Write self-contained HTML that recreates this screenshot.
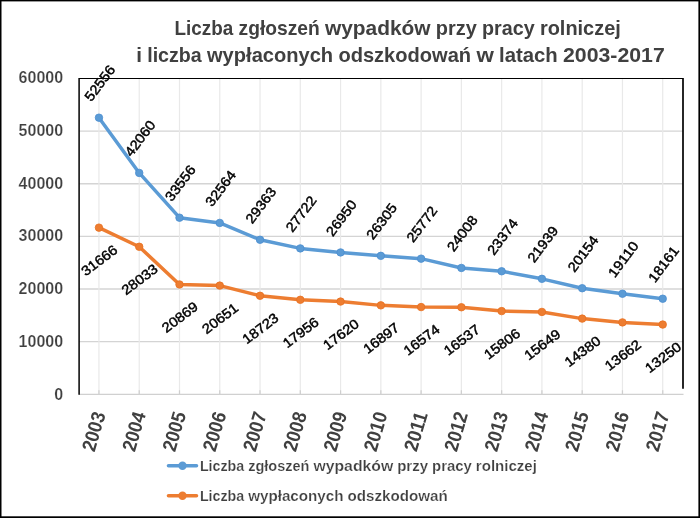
<!DOCTYPE html>
<html lang="pl"><head><meta charset="utf-8"><title>Liczba zgłoszeń wypadków przy pracy rolniczej</title>
<style>
html,body{margin:0;padding:0;background:#fff;}
body{width:700px;height:518px;overflow:hidden;}
svg{display:block;}
text{font-family:'Liberation Sans', Arial, sans-serif;}
.t{font-weight:700;fill:#404040;}
.u{stroke:#fff;stroke-width:0.2px;paint-order:fill stroke;}
.d{font-weight:400;fill:#000;font-size:13.7px;stroke:#000;stroke-width:0.45px;}
</style></head><body>
<svg width="700" height="518" viewBox="0 0 700 518">
<rect x="0" y="0" width="700" height="518" fill="#fff"/>
<line x1="79.1" x2="683.0" y1="341.67" y2="341.67" stroke="#d4d4d4" stroke-width="1.4"/>
<line x1="79.1" x2="683.0" y1="289.03" y2="289.03" stroke="#d4d4d4" stroke-width="1.4"/>
<line x1="79.1" x2="683.0" y1="236.40" y2="236.40" stroke="#d4d4d4" stroke-width="1.4"/>
<line x1="79.1" x2="683.0" y1="183.77" y2="183.77" stroke="#d4d4d4" stroke-width="1.4"/>
<line x1="79.1" x2="683.0" y1="131.13" y2="131.13" stroke="#d4d4d4" stroke-width="1.4"/>
<line x1="98.95" x2="98.95" y1="78.5" y2="394.3" stroke="#e9e9e9" stroke-width="1.2"/>
<line x1="98.95" x2="98.95" y1="390.3" y2="394.7" stroke="#cfcfcf" stroke-width="1.2"/>
<line x1="139.22" x2="139.22" y1="78.5" y2="394.3" stroke="#e9e9e9" stroke-width="1.2"/>
<line x1="139.22" x2="139.22" y1="390.3" y2="394.7" stroke="#cfcfcf" stroke-width="1.2"/>
<line x1="179.49" x2="179.49" y1="78.5" y2="394.3" stroke="#e9e9e9" stroke-width="1.2"/>
<line x1="179.49" x2="179.49" y1="390.3" y2="394.7" stroke="#cfcfcf" stroke-width="1.2"/>
<line x1="219.76" x2="219.76" y1="78.5" y2="394.3" stroke="#e9e9e9" stroke-width="1.2"/>
<line x1="219.76" x2="219.76" y1="390.3" y2="394.7" stroke="#cfcfcf" stroke-width="1.2"/>
<line x1="260.03" x2="260.03" y1="78.5" y2="394.3" stroke="#e9e9e9" stroke-width="1.2"/>
<line x1="260.03" x2="260.03" y1="390.3" y2="394.7" stroke="#cfcfcf" stroke-width="1.2"/>
<line x1="300.30" x2="300.30" y1="78.5" y2="394.3" stroke="#e9e9e9" stroke-width="1.2"/>
<line x1="300.30" x2="300.30" y1="390.3" y2="394.7" stroke="#cfcfcf" stroke-width="1.2"/>
<line x1="340.57" x2="340.57" y1="78.5" y2="394.3" stroke="#e9e9e9" stroke-width="1.2"/>
<line x1="340.57" x2="340.57" y1="390.3" y2="394.7" stroke="#cfcfcf" stroke-width="1.2"/>
<line x1="380.84" x2="380.84" y1="78.5" y2="394.3" stroke="#e9e9e9" stroke-width="1.2"/>
<line x1="380.84" x2="380.84" y1="390.3" y2="394.7" stroke="#cfcfcf" stroke-width="1.2"/>
<line x1="421.11" x2="421.11" y1="78.5" y2="394.3" stroke="#e9e9e9" stroke-width="1.2"/>
<line x1="421.11" x2="421.11" y1="390.3" y2="394.7" stroke="#cfcfcf" stroke-width="1.2"/>
<line x1="461.38" x2="461.38" y1="78.5" y2="394.3" stroke="#e9e9e9" stroke-width="1.2"/>
<line x1="461.38" x2="461.38" y1="390.3" y2="394.7" stroke="#cfcfcf" stroke-width="1.2"/>
<line x1="501.65" x2="501.65" y1="78.5" y2="394.3" stroke="#e9e9e9" stroke-width="1.2"/>
<line x1="501.65" x2="501.65" y1="390.3" y2="394.7" stroke="#cfcfcf" stroke-width="1.2"/>
<line x1="541.92" x2="541.92" y1="78.5" y2="394.3" stroke="#e9e9e9" stroke-width="1.2"/>
<line x1="541.92" x2="541.92" y1="390.3" y2="394.7" stroke="#cfcfcf" stroke-width="1.2"/>
<line x1="582.19" x2="582.19" y1="78.5" y2="394.3" stroke="#e9e9e9" stroke-width="1.2"/>
<line x1="582.19" x2="582.19" y1="390.3" y2="394.7" stroke="#cfcfcf" stroke-width="1.2"/>
<line x1="622.46" x2="622.46" y1="78.5" y2="394.3" stroke="#e9e9e9" stroke-width="1.2"/>
<line x1="622.46" x2="622.46" y1="390.3" y2="394.7" stroke="#cfcfcf" stroke-width="1.2"/>
<line x1="662.73" x2="662.73" y1="78.5" y2="394.3" stroke="#e9e9e9" stroke-width="1.2"/>
<line x1="662.73" x2="662.73" y1="390.3" y2="394.7" stroke="#cfcfcf" stroke-width="1.2"/>
<line x1="79.1" x2="683.5" y1="394.3" y2="394.3" stroke="#d0d0d0" stroke-width="1.2"/>
<path d="M79.1 394.8 L79.1 78.0" fill="none" stroke="#000" stroke-width="1.5"/>
<path d="M683.0 78.0 L683.0 388.8" fill="none" stroke="#000" stroke-width="1.7"/>
<path d="M79.1 78.5 L683.0 78.5" fill="none" stroke="#000" stroke-width="1.1"/>
<polyline points="98.95,117.68 139.22,172.92 179.49,217.68 219.76,222.90 260.03,239.75 300.30,248.39 340.57,252.45 380.84,255.85 421.11,258.65 461.38,267.94 501.65,271.27 541.92,278.83 582.19,288.22 622.46,293.72 662.73,298.71" fill="none" stroke="#5b9bd5" stroke-width="3.5" stroke-linejoin="round" stroke-linecap="round"/>
<circle cx="98.95" cy="117.68" r="3.75" fill="#5b9bd5" stroke="#4b8ed0" stroke-width="0.8"/>
<circle cx="139.22" cy="172.92" r="3.75" fill="#5b9bd5" stroke="#4b8ed0" stroke-width="0.8"/>
<circle cx="179.49" cy="217.68" r="3.75" fill="#5b9bd5" stroke="#4b8ed0" stroke-width="0.8"/>
<circle cx="219.76" cy="222.90" r="3.75" fill="#5b9bd5" stroke="#4b8ed0" stroke-width="0.8"/>
<circle cx="260.03" cy="239.75" r="3.75" fill="#5b9bd5" stroke="#4b8ed0" stroke-width="0.8"/>
<circle cx="300.30" cy="248.39" r="3.75" fill="#5b9bd5" stroke="#4b8ed0" stroke-width="0.8"/>
<circle cx="340.57" cy="252.45" r="3.75" fill="#5b9bd5" stroke="#4b8ed0" stroke-width="0.8"/>
<circle cx="380.84" cy="255.85" r="3.75" fill="#5b9bd5" stroke="#4b8ed0" stroke-width="0.8"/>
<circle cx="421.11" cy="258.65" r="3.75" fill="#5b9bd5" stroke="#4b8ed0" stroke-width="0.8"/>
<circle cx="461.38" cy="267.94" r="3.75" fill="#5b9bd5" stroke="#4b8ed0" stroke-width="0.8"/>
<circle cx="501.65" cy="271.27" r="3.75" fill="#5b9bd5" stroke="#4b8ed0" stroke-width="0.8"/>
<circle cx="541.92" cy="278.83" r="3.75" fill="#5b9bd5" stroke="#4b8ed0" stroke-width="0.8"/>
<circle cx="582.19" cy="288.22" r="3.75" fill="#5b9bd5" stroke="#4b8ed0" stroke-width="0.8"/>
<circle cx="622.46" cy="293.72" r="3.75" fill="#5b9bd5" stroke="#4b8ed0" stroke-width="0.8"/>
<circle cx="662.73" cy="298.71" r="3.75" fill="#5b9bd5" stroke="#4b8ed0" stroke-width="0.8"/>
<polyline points="98.95,227.63 139.22,246.75 179.49,284.46 219.76,285.61 260.03,295.75 300.30,299.79 340.57,301.56 380.84,305.37 421.11,307.07 461.38,307.26 501.65,311.11 541.92,311.93 582.19,318.61 622.46,322.39 662.73,324.56" fill="none" stroke="#ed7d31" stroke-width="3.5" stroke-linejoin="round" stroke-linecap="round"/>
<circle cx="98.95" cy="227.63" r="3.75" fill="#ed7d31" stroke="#e8701f" stroke-width="0.8"/>
<circle cx="139.22" cy="246.75" r="3.75" fill="#ed7d31" stroke="#e8701f" stroke-width="0.8"/>
<circle cx="179.49" cy="284.46" r="3.75" fill="#ed7d31" stroke="#e8701f" stroke-width="0.8"/>
<circle cx="219.76" cy="285.61" r="3.75" fill="#ed7d31" stroke="#e8701f" stroke-width="0.8"/>
<circle cx="260.03" cy="295.75" r="3.75" fill="#ed7d31" stroke="#e8701f" stroke-width="0.8"/>
<circle cx="300.30" cy="299.79" r="3.75" fill="#ed7d31" stroke="#e8701f" stroke-width="0.8"/>
<circle cx="340.57" cy="301.56" r="3.75" fill="#ed7d31" stroke="#e8701f" stroke-width="0.8"/>
<circle cx="380.84" cy="305.37" r="3.75" fill="#ed7d31" stroke="#e8701f" stroke-width="0.8"/>
<circle cx="421.11" cy="307.07" r="3.75" fill="#ed7d31" stroke="#e8701f" stroke-width="0.8"/>
<circle cx="461.38" cy="307.26" r="3.75" fill="#ed7d31" stroke="#e8701f" stroke-width="0.8"/>
<circle cx="501.65" cy="311.11" r="3.75" fill="#ed7d31" stroke="#e8701f" stroke-width="0.8"/>
<circle cx="541.92" cy="311.93" r="3.75" fill="#ed7d31" stroke="#e8701f" stroke-width="0.8"/>
<circle cx="582.19" cy="318.61" r="3.75" fill="#ed7d31" stroke="#e8701f" stroke-width="0.8"/>
<circle cx="622.46" cy="322.39" r="3.75" fill="#ed7d31" stroke="#e8701f" stroke-width="0.8"/>
<circle cx="662.73" cy="324.56" r="3.75" fill="#ed7d31" stroke="#e8701f" stroke-width="0.8"/>
<text class="d" transform="translate(99.55 82.98) rotate(-53)" text-anchor="middle" y="5.0" textLength="41" lengthAdjust="spacingAndGlyphs">52556</text>
<text class="d" transform="translate(139.82 138.22) rotate(-53)" text-anchor="middle" y="5.0" textLength="41" lengthAdjust="spacingAndGlyphs">42060</text>
<text class="d" transform="translate(180.09 182.98) rotate(-53)" text-anchor="middle" y="5.0" textLength="41" lengthAdjust="spacingAndGlyphs">33556</text>
<text class="d" transform="translate(220.36 188.20) rotate(-53)" text-anchor="middle" y="5.0" textLength="41" lengthAdjust="spacingAndGlyphs">32564</text>
<text class="d" transform="translate(260.63 205.05) rotate(-53)" text-anchor="middle" y="5.0" textLength="41" lengthAdjust="spacingAndGlyphs">29363</text>
<text class="d" transform="translate(300.90 213.69) rotate(-53)" text-anchor="middle" y="5.0" textLength="41" lengthAdjust="spacingAndGlyphs">27722</text>
<text class="d" transform="translate(341.17 217.75) rotate(-53)" text-anchor="middle" y="5.0" textLength="41" lengthAdjust="spacingAndGlyphs">26950</text>
<text class="d" transform="translate(381.44 221.15) rotate(-53)" text-anchor="middle" y="5.0" textLength="41" lengthAdjust="spacingAndGlyphs">26305</text>
<text class="d" transform="translate(421.71 223.95) rotate(-53)" text-anchor="middle" y="5.0" textLength="41" lengthAdjust="spacingAndGlyphs">25772</text>
<text class="d" transform="translate(461.98 233.24) rotate(-53)" text-anchor="middle" y="5.0" textLength="41" lengthAdjust="spacingAndGlyphs">24008</text>
<text class="d" transform="translate(502.25 236.57) rotate(-53)" text-anchor="middle" y="5.0" textLength="41" lengthAdjust="spacingAndGlyphs">23374</text>
<text class="d" transform="translate(542.52 244.13) rotate(-53)" text-anchor="middle" y="5.0" textLength="41" lengthAdjust="spacingAndGlyphs">21939</text>
<text class="d" transform="translate(582.79 253.52) rotate(-53)" text-anchor="middle" y="5.0" textLength="41" lengthAdjust="spacingAndGlyphs">20154</text>
<text class="d" transform="translate(623.06 259.02) rotate(-53)" text-anchor="middle" y="5.0" textLength="41" lengthAdjust="spacingAndGlyphs">19110</text>
<text class="d" transform="translate(663.33 264.01) rotate(-53)" text-anchor="middle" y="5.0" textLength="41" lengthAdjust="spacingAndGlyphs">18161</text>
<text class="d" transform="translate(99.15 260.13) rotate(-37)" text-anchor="middle" y="5.0" textLength="41" lengthAdjust="spacingAndGlyphs">31666</text>
<text class="d" transform="translate(139.42 279.25) rotate(-37)" text-anchor="middle" y="5.0" textLength="41" lengthAdjust="spacingAndGlyphs">28033</text>
<text class="d" transform="translate(179.69 316.96) rotate(-37)" text-anchor="middle" y="5.0" textLength="41" lengthAdjust="spacingAndGlyphs">20869</text>
<text class="d" transform="translate(219.96 318.11) rotate(-37)" text-anchor="middle" y="5.0" textLength="41" lengthAdjust="spacingAndGlyphs">20651</text>
<text class="d" transform="translate(260.23 328.25) rotate(-37)" text-anchor="middle" y="5.0" textLength="41" lengthAdjust="spacingAndGlyphs">18723</text>
<text class="d" transform="translate(300.50 332.29) rotate(-37)" text-anchor="middle" y="5.0" textLength="41" lengthAdjust="spacingAndGlyphs">17956</text>
<text class="d" transform="translate(340.77 334.06) rotate(-37)" text-anchor="middle" y="5.0" textLength="41" lengthAdjust="spacingAndGlyphs">17620</text>
<text class="d" transform="translate(381.04 337.87) rotate(-37)" text-anchor="middle" y="5.0" textLength="41" lengthAdjust="spacingAndGlyphs">16897</text>
<text class="d" transform="translate(421.31 339.57) rotate(-37)" text-anchor="middle" y="5.0" textLength="41" lengthAdjust="spacingAndGlyphs">16574</text>
<text class="d" transform="translate(461.58 339.76) rotate(-37)" text-anchor="middle" y="5.0" textLength="41" lengthAdjust="spacingAndGlyphs">16537</text>
<text class="d" transform="translate(501.85 343.61) rotate(-37)" text-anchor="middle" y="5.0" textLength="41" lengthAdjust="spacingAndGlyphs">15806</text>
<text class="d" transform="translate(542.12 344.43) rotate(-37)" text-anchor="middle" y="5.0" textLength="41" lengthAdjust="spacingAndGlyphs">15649</text>
<text class="d" transform="translate(582.39 351.11) rotate(-37)" text-anchor="middle" y="5.0" textLength="41" lengthAdjust="spacingAndGlyphs">14380</text>
<text class="d" transform="translate(622.66 354.89) rotate(-37)" text-anchor="middle" y="5.0" textLength="41" lengthAdjust="spacingAndGlyphs">13662</text>
<text class="d" transform="translate(662.93 357.06) rotate(-37)" text-anchor="middle" y="5.0" textLength="41" lengthAdjust="spacingAndGlyphs">13250</text>
<text class="t u" font-size="16" x="63.1" y="399.80" text-anchor="end" textLength="8.9" lengthAdjust="spacingAndGlyphs">0</text>
<text class="t u" font-size="16" x="63.1" y="347.02" text-anchor="end" textLength="44.5" lengthAdjust="spacingAndGlyphs">10000</text>
<text class="t u" font-size="16" x="63.1" y="294.23" text-anchor="end" textLength="44.5" lengthAdjust="spacingAndGlyphs">20000</text>
<text class="t u" font-size="16" x="63.1" y="241.45" text-anchor="end" textLength="44.5" lengthAdjust="spacingAndGlyphs">30000</text>
<text class="t u" font-size="16" x="63.1" y="188.67" text-anchor="end" textLength="44.5" lengthAdjust="spacingAndGlyphs">40000</text>
<text class="t u" font-size="16" x="63.1" y="135.88" text-anchor="end" textLength="44.5" lengthAdjust="spacingAndGlyphs">50000</text>
<text class="t u" font-size="16" x="63.1" y="83.10" text-anchor="end" textLength="44.5" lengthAdjust="spacingAndGlyphs">60000</text>
<text class="t" font-size="19.6" transform="translate(93.35 431.40) rotate(-73.5)" text-anchor="middle" y="7.0" textLength="40" lengthAdjust="spacingAndGlyphs">2003</text>
<text class="t" font-size="19.6" transform="translate(133.62 431.40) rotate(-73.5)" text-anchor="middle" y="7.0" textLength="40" lengthAdjust="spacingAndGlyphs">2004</text>
<text class="t" font-size="19.6" transform="translate(173.89 431.40) rotate(-73.5)" text-anchor="middle" y="7.0" textLength="40" lengthAdjust="spacingAndGlyphs">2005</text>
<text class="t" font-size="19.6" transform="translate(214.16 431.40) rotate(-73.5)" text-anchor="middle" y="7.0" textLength="40" lengthAdjust="spacingAndGlyphs">2006</text>
<text class="t" font-size="19.6" transform="translate(254.43 431.40) rotate(-73.5)" text-anchor="middle" y="7.0" textLength="40" lengthAdjust="spacingAndGlyphs">2007</text>
<text class="t" font-size="19.6" transform="translate(294.70 431.40) rotate(-73.5)" text-anchor="middle" y="7.0" textLength="40" lengthAdjust="spacingAndGlyphs">2008</text>
<text class="t" font-size="19.6" transform="translate(334.97 431.40) rotate(-73.5)" text-anchor="middle" y="7.0" textLength="40" lengthAdjust="spacingAndGlyphs">2009</text>
<text class="t" font-size="19.6" transform="translate(375.24 431.40) rotate(-73.5)" text-anchor="middle" y="7.0" textLength="40" lengthAdjust="spacingAndGlyphs">2010</text>
<text class="t" font-size="19.6" transform="translate(415.51 431.40) rotate(-73.5)" text-anchor="middle" y="7.0" textLength="40" lengthAdjust="spacingAndGlyphs">2011</text>
<text class="t" font-size="19.6" transform="translate(455.78 431.40) rotate(-73.5)" text-anchor="middle" y="7.0" textLength="40" lengthAdjust="spacingAndGlyphs">2012</text>
<text class="t" font-size="19.6" transform="translate(496.05 431.40) rotate(-73.5)" text-anchor="middle" y="7.0" textLength="40" lengthAdjust="spacingAndGlyphs">2013</text>
<text class="t" font-size="19.6" transform="translate(536.32 431.40) rotate(-73.5)" text-anchor="middle" y="7.0" textLength="40" lengthAdjust="spacingAndGlyphs">2014</text>
<text class="t" font-size="19.6" transform="translate(576.59 431.40) rotate(-73.5)" text-anchor="middle" y="7.0" textLength="40" lengthAdjust="spacingAndGlyphs">2015</text>
<text class="t" font-size="19.6" transform="translate(616.86 431.40) rotate(-73.5)" text-anchor="middle" y="7.0" textLength="40" lengthAdjust="spacingAndGlyphs">2016</text>
<text class="t" font-size="19.6" transform="translate(657.13 431.40) rotate(-73.5)" text-anchor="middle" y="7.0" textLength="40" lengthAdjust="spacingAndGlyphs">2017</text>
<text class="t" font-size="19.8" y="34.6"><tspan x="174.60" textLength="58.67" lengthAdjust="spacingAndGlyphs">Liczba</tspan><tspan x="238.54" textLength="81.14" lengthAdjust="spacingAndGlyphs">zgłoszeń</tspan><tspan x="324.96" textLength="105.58" lengthAdjust="spacingAndGlyphs">wypadków</tspan><tspan x="435.81" textLength="40.97" lengthAdjust="spacingAndGlyphs">przy</tspan><tspan x="482.05" textLength="52.63" lengthAdjust="spacingAndGlyphs">pracy</tspan><tspan x="539.95" textLength="80.84" lengthAdjust="spacingAndGlyphs">rolniczej</tspan></text>
<text class="t" font-size="19.8" y="62.3"><tspan x="136.20" textLength="5.73" lengthAdjust="spacingAndGlyphs">i</tspan><tspan x="147.20" textLength="54.53" lengthAdjust="spacingAndGlyphs">liczba</tspan><tspan x="207.01" textLength="126.12" lengthAdjust="spacingAndGlyphs">wypłaconych</tspan><tspan x="338.40" textLength="132.74" lengthAdjust="spacingAndGlyphs">odszkodowań</tspan><tspan x="476.41" textLength="17.38" lengthAdjust="spacingAndGlyphs">w</tspan><tspan x="499.07" textLength="58.69" lengthAdjust="spacingAndGlyphs">latach</tspan><tspan x="563.04" textLength="101.74" lengthAdjust="spacingAndGlyphs">2003-2017</tspan></text>
<line x1="168.5" x2="196.5" y1="465.8" y2="465.8" stroke="#5b9bd5" stroke-width="3.6" stroke-linecap="round"/>
<circle cx="182.5" cy="465.8" r="4.2" fill="#5b9bd5"/>
<text class="t u" font-size="14.6" y="470.9"><tspan x="199.90" textLength="44.31" lengthAdjust="spacingAndGlyphs">Liczba</tspan><tspan x="248.19" textLength="61.28" lengthAdjust="spacingAndGlyphs">zgłoszeń</tspan><tspan x="313.46" textLength="79.74" lengthAdjust="spacingAndGlyphs">wypadków</tspan><tspan x="397.18" textLength="30.94" lengthAdjust="spacingAndGlyphs">przy</tspan><tspan x="432.10" textLength="39.75" lengthAdjust="spacingAndGlyphs">pracy</tspan><tspan x="475.83" textLength="61.05" lengthAdjust="spacingAndGlyphs">rolniczej</tspan></text>
<line x1="168.5" x2="196.5" y1="495.8" y2="495.8" stroke="#ed7d31" stroke-width="3.6" stroke-linecap="round"/>
<circle cx="182.5" cy="495.8" r="4.2" fill="#ed7d31"/>
<text class="t u" font-size="14.6" y="500.9"><tspan x="199.90" textLength="44.31" lengthAdjust="spacingAndGlyphs">Liczba</tspan><tspan x="248.19" textLength="95.25" lengthAdjust="spacingAndGlyphs">wypłaconych</tspan><tspan x="347.43" textLength="100.25" lengthAdjust="spacingAndGlyphs">odszkodowań</tspan></text>
<rect x="0" y="0" width="1.5" height="518" fill="#000"/>
<rect x="0" y="0" width="700" height="1.4" fill="#000"/>
<rect x="698.4" y="0" width="1.6" height="518" fill="#000"/>
<rect x="0" y="516.3" width="700" height="1.7" fill="#000"/>
</svg></body></html>
